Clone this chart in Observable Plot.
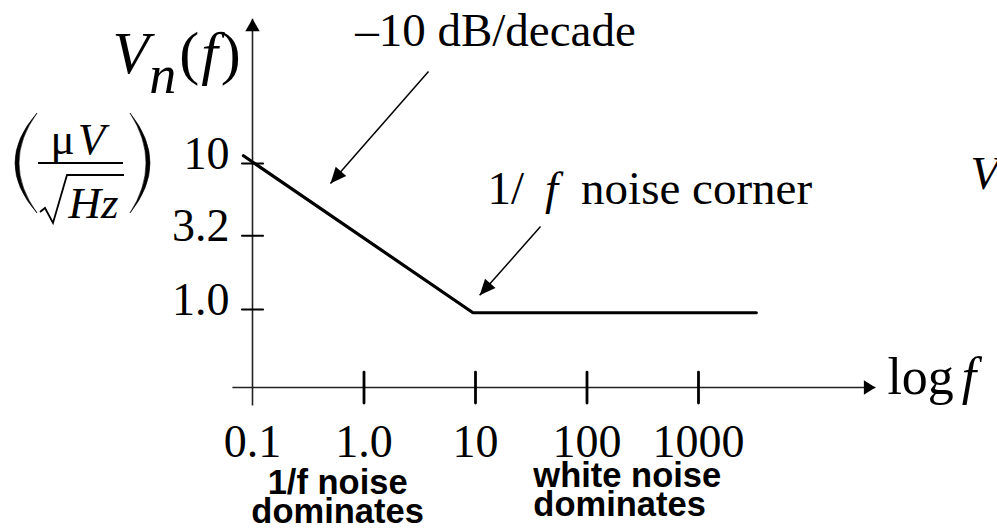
<!DOCTYPE html>
<html><head><meta charset="utf-8">
<script src="https://cdn.jsdelivr.net/npm/d3@7"></script>
<script src="https://cdn.jsdelivr.net/npm/@observablehq/plot@0.6"></script>
<style>html,body{margin:0;padding:0;background:#fff;overflow:hidden}</style>
</head><body><div id="chart"></div>
<script>
// ---- data ----
const freq = [0.083, 9.5, 3300];          // Hz
const noise = [11.3, 0.95, 0.95];          // µV/√Hz
const xTickValues = [0.1, 1, 10, 100, 1000];
const xTickLabels = ["0.1", "1.0", "10", "100", "1000"];
const xTickMarks = [1, 10, 100, 1000];
const yTickValues = [10, 3.2, 1.0];
const yTickLabels = ["10", "3.2", "1.0"];
const regionLabels = ["1/f noise\ndominates", "white noise\ndominates"];
const regionF = [0.58, 33];
const originF = 0.1;                       // vertical axis position (f)
const originV = 0.292;                     // horizontal axis position (V)
const xAxisF = [0.066, 38600];             // horizontal axis extent (tail, tip)
const yAxisV = [0.22, 98];                 // vertical axis extent (tail, tip)
const annText = ["–10 dB/decade", "1/ f noise corner"];
const annTextF = [15.1, 12.8];
const annTextV = [64.3, 5.3];
const annFromF = [3.79, 38.3];
const annFromV = [42.7, 3.7];
const annToF = [0.50, 10.9];
const annToV = [7.3, 1.25];

// ---- layout ----
const W = 997, H = 528;
const M = {top: 163, right: 299, bottom: 219, left: 252};
const xScaleOpts = {type: "log", domain: [0.1, 1000], axis: null};
const yScaleOpts = {type: "log", domain: [1, 10], axis: null};
const xs = Plot.scale({x: {...xScaleOpts, range: [M.left, W - M.right]}});
const ys = Plot.scale({y: {...yScaleOpts, range: [H - M.bottom, M.top]}});
const angle = (f1, v1, f2, v2) =>
  Math.atan2(xs.apply(f2) - xs.apply(f1), -(ys.apply(v2) - ys.apply(v1))) * 180 / Math.PI;

const lineData = freq.map((f, i) => ({f, v: noise[i]}));
const ann = annText.map((t, i) => ({
  text: t, f: annTextF[i], v: annTextV[i],
  f1: annFromF[i], v1: annFromV[i], f2: annToF[i], v2: annToV[i],
  rot: angle(annFromF[i], annFromV[i], annToF[i], annToV[i])
}));
const axes = [
  {f1: xAxisF[0], v1: originV, f2: xAxisF[1], v2: originV, rot: 90, len: 13},
  {f1: originF, v1: yAxisV[0], f2: originF, v2: yAxisV[1], rot: 0, len: 14}
];
const serif = "'Liberation Serif', 'Times New Roman', serif";
const sans = "'Liberation Sans', Arial, sans-serif";
const tickShape = {draw(ctx, l) { ctx.moveTo(0, 0); ctx.lineTo(0, -l); }};

function unitGlyphs(index, scales, values, dim) {
  const x0 = dim.marginLeft, y0 = dim.marginTop;
  const g = d3.create("svg:g");
  const paren = (e, oc, ic) =>
    `M${x0 + e},${y0 - 50}Q${x0 + oc},${y0} ${x0 + e},${y0 + 50}Q${x0 + ic},${y0} ${x0 + e},${y0 - 50}Z`;
  g.append("path").attr("d", paren(-215, -259, -251)).attr("fill", "black").attr("stroke", "black").attr("stroke-width", 0.6);
  g.append("path").attr("d", paren(-122, -82, -90)).attr("fill", "black").attr("stroke", "black").attr("stroke-width", 0.6);
  g.append("path").attr("d", `M${x0 - 214},${y0}H${x0 - 129}`).attr("stroke", "black").attr("stroke-width", 2);
  g.append("path")
    .attr("d", `M${x0 - 212},${y0 + 49}L${x0 - 207},${y0 + 45}L${x0 - 199},${y0 + 60}L${x0 - 185},${y0 + 12}H${x0 - 128}`)
    .attr("fill", "none").attr("stroke", "black").attr("stroke-width", 1.8).attr("stroke-linejoin", "miter");
  return g.node();
}

const svg = Plot.plot({
  width: W, height: H,
  marginTop: M.top, marginRight: M.right, marginBottom: M.bottom, marginLeft: M.left,
  x: xScaleOpts, y: yScaleOpts,
  style: {background: "white", color: "black", overflow: "visible"},
  marks: [
    // axes
    Plot.link(axes, {x1: "f1", y1: "v1", x2: "f2", y2: "v2", stroke: "#222", strokeWidth: 1.6}),
    Plot.vector(axes, {x: "f2", y: "v2", rotate: "rot", length: "len", r: 7.2, shape: "spike", anchor: "end", fill: "black", stroke: "none"}),
    // tick marks
    Plot.vector(xTickMarks, {x: d => d, y: () => originV, length: 31, rotate: 0, anchor: "middle", shape: tickShape, stroke: "black", strokeWidth: 2.8}),
    Plot.vector(yTickValues, {x: () => originF, y: d => d, length: 21, rotate: 90, anchor: "middle", shape: tickShape, stroke: "black", strokeWidth: 2.2}),
    // tick labels
    Plot.text(xTickValues, {x: d => d, y: () => originV, text: (d, i) => xTickLabels[i], dy: 69, lineAnchor: "bottom", fontFamily: serif, fontSize: 46}),
    Plot.text(yTickValues, {x: () => originF, y: d => d, text: (d, i) => yTickLabels[i], textAnchor: "end", dx: -23, dy: 5, lineAnchor: "bottom", fontFamily: serif, fontSize: 46}),
    // axis titles
    Plot.text(["log f"], {x: () => xAxisF[1], y: () => originV, textAnchor: "start", dx: 12, dy: 6, lineAnchor: "bottom", fontFamily: serif, fontSize: 52}),
    Plot.text(["Vn(f)"], {frameAnchor: "top-left", textAnchor: "start", dx: -140, dy: -91, lineAnchor: "bottom", fontFamily: serif, fontSize: 60}),
    Plot.text(["μV"], {frameAnchor: "top-left", textAnchor: "start", dx: -202, dy: -10, lineAnchor: "bottom", fontFamily: serif, fontSize: 45}),
    Plot.text(["Hz"], {frameAnchor: "top-left", textAnchor: "start", dx: -184, dy: 54, lineAnchor: "bottom", fontFamily: serif, fontSize: 45}),
    unitGlyphs,
    // truncated neighbouring label at the right edge
    Plot.text(["V"], {frameAnchor: "top-right", textAnchor: "start", dx: 272, dy: 25, lineAnchor: "bottom", fontFamily: serif, fontStyle: "italic", fontSize: 47}),
    // data line
    Plot.line(lineData, {x: "f", y: "v", stroke: "black", strokeWidth: 3.2, strokeLinejoin: "miter"}),
    // annotations
    Plot.link(ann, {x1: "f1", y1: "v1", x2: "f2", y2: "v2", stroke: "black", strokeWidth: 1.5}),
    Plot.vector(ann, {x: "f2", y: "v2", rotate: "rot", length: 16, r: 7, shape: "spike", anchor: "end", fill: "black", stroke: "none"}),
    Plot.text([ann[0]], {x: "f", y: "v", text: "text", textAnchor: "middle", lineAnchor: "bottom", fontFamily: serif, fontSize: 47}),
    Plot.text([ann[1]], {x: "f", y: "v", text: "text", textAnchor: "start", lineAnchor: "bottom", fontFamily: serif, fontSize: 47}),
    // region labels
    Plot.text([regionLabels[0]], {x: () => regionF[0], y: () => originV, text: d => d, textAnchor: "middle", dy: 135, lineAnchor: "bottom", lineHeight: 0.84, fontFamily: sans, fontWeight: "bold", fontSize: 34.5}),
    Plot.text([regionLabels[1]], {x: () => regionF[1], y: () => originV, text: d => d, textAnchor: "start", dy: 128, lineAnchor: "bottom", lineHeight: 0.84, fontFamily: sans, fontWeight: "bold", fontSize: 34.5})
  ]
});

// mixed upright / italic typography inside single labels
const rich = new Map([
  ["Vn(f)", '<tspan font-style="italic">V</tspan><tspan font-style="italic" font-size="54" dy="20">n</tspan><tspan dy="-20" dx="3">(</tspan><tspan font-style="italic" dx="2">f</tspan><tspan dx="3">)</tspan>'],
  ["μV", 'μ<tspan font-style="italic" dx="3">V</tspan>'],
  ["Hz", '<tspan font-style="italic">Hz</tspan>'],
  ["1/ f noise corner", '1/<tspan font-style="italic" dx="21">f</tspan><tspan dx="23">noise corner</tspan>'],
  ["log f", 'log<tspan font-style="italic" dx="8">f</tspan>']
]);
svg.querySelectorAll("text").forEach(t => {
  const k = t.textContent;
  if (rich.has(k)) t.innerHTML = rich.get(k);
});
document.getElementById("chart").appendChild(svg);
</script>
</body></html>
